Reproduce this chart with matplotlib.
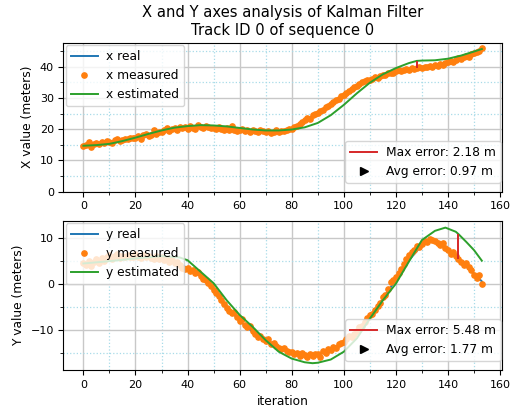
import numpy as np
import matplotlib.pyplot as plt
from matplotlib.lines import Line2D
from matplotlib.ticker import MultipleLocator

plt.rcParams['font.size'] = 8.8

# measured positions, one per iteration (0..153)
x_measured = [
    14.6, 14.8, 15.9, 14.4, 15.2, 15.6, 15.1, 15.8, 15.5, 16.2,
    16.0, 15.6, 16.4, 16.8, 16.1, 16.5, 17.0, 16.7, 17.2, 17.1,
    17.3, 17.8, 17.0, 18.2, 18.4, 17.9, 18.0, 19.9, 18.6, 19.2,
    19.0, 19.6, 20.3, 19.4, 20.1, 20.5, 19.9, 20.8, 20.4, 20.6,
    20.1, 20.9, 20.5, 20.2, 21.2, 20.6, 20.4, 21.0, 20.8, 20.3,
    20.5, 20.0, 20.7, 20.2, 19.9, 20.4, 19.7, 20.9, 19.8, 19.5,
    19.6, 20.1, 19.4, 19.8, 19.2, 19.9, 19.3, 19.0, 19.6, 19.4,
    19.1, 19.5, 18.8, 19.2, 19.6, 19.0, 19.3, 19.4, 19.8, 20.1,
    20.2, 20.6, 21.0, 21.6, 22.3, 22.8, 23.5, 23.2, 24.4, 24.8,
    25.2, 25.9, 26.3, 27.0, 27.4, 28.2, 28.6, 29.4, 29.8, 30.5,
    31.0, 31.6, 32.4, 32.8, 33.5, 33.9, 34.6, 35.0, 35.3, 35.9,
    35.8, 36.2, 36.7, 36.4, 37.1, 37.5, 37.3, 37.9, 38.1, 38.0,
    38.6, 38.9, 38.5, 39.1, 39.4, 39.0, 39.6, 39.3, 39.7, 39.9,
    39.5, 40.1, 39.8, 40.3, 40.0, 40.6, 40.4, 41.0, 40.7, 41.2,
    41.4, 41.9, 41.6, 42.3, 42.8, 42.5, 43.1, 43.6, 43.3, 44.0,
    44.4, 44.9, 45.1, 46.1,
]
y_measured = [
    4.6, 4.2, 5.1, 3.9, 4.8, 5.4, 4.7, 5.6, 5.0, 5.8,
    6.3, 5.5, 6.1, 6.6, 5.7, 6.2, 5.9, 6.4, 6.0, 5.8,
    6.5, 6.0, 5.6, 6.3, 5.9, 6.2, 5.7, 5.5, 6.1, 5.4,
    5.8, 5.2, 5.5, 4.9, 5.3, 4.6, 4.8, 4.1, 3.6, 3.2,
    3.5, 2.8, 3.0, 2.4, 2.6, 1.8, 1.2, 0.9, 0.2, -0.5,
    -1.3, -1.9, -2.6, -3.5, -4.4, -5.2, -5.8, -6.3, -6.0, -7.2,
    -8.0, -7.6, -8.9, -9.4, -9.0, -10.3, -10.8, -11.6, -11.2, -12.0,
    -12.4, -11.9, -13.0, -12.7, -13.5, -13.8, -14.1, -13.9, -14.6, -14.8,
    -14.7, -15.2, -15.0, -15.6, -14.9, -15.5, -15.9, -15.1, -15.7, -15.3,
    -15.2, -15.8, -14.6, -15.0, -14.2, -14.4, -13.7, -13.9, -13.1, -12.8,
    -12.5, -12.0, -11.3, -11.6, -10.8, -10.2, -9.4, -9.0, -8.3, -7.4,
    -6.7, -6.6, -5.7, -4.8, -4.2, -2.9, -2.4, -1.1, 0.4, 0.9,
    1.6, 2.5, 3.4, 4.3, 5.5, 6.3, 6.9, 7.4, 8.2, 8.0,
    8.8, 9.4, 9.1, 9.8, 9.5, 9.3, 9.0, 8.6, 8.9, 7.8,
    7.4, 6.6, 7.0, 6.2, 5.4, 4.9, 4.1, 4.5, 3.7, 3.0,
    2.0, 1.4, 1.9, 0.0,
]

# real trajectory (read at selected iterations)
x_real_it = [0, 10, 20, 30, 40, 50, 60, 70, 75, 80, 85, 90, 95, 100, 105,
             110, 115, 120, 125, 128, 130, 135, 140, 145, 150, 153]
x_real = [14.6, 16.0, 17.6, 19.3, 20.4, 20.5, 19.9, 19.3, 19.2, 20.0, 22.5,
          25.3, 28.2, 31.0, 33.9, 35.9, 37.4, 38.5, 39.3, 39.7, 39.9, 40.5,
          41.4, 42.6, 44.2, 45.6]
y_real_it = [0, 10, 20, 30, 35, 40, 45, 50, 55, 60, 65, 70, 75, 80, 85, 90,
             95, 100, 105, 110, 115, 120, 125, 130, 133, 135, 140, 144, 145,
             150, 153]
y_real = [4.5, 5.5, 6.0, 5.7, 5.0, 3.5, 1.8, -1.2, -4.8, -8.0, -10.4, -12.3,
          -13.8, -14.8, -15.4, -15.3, -14.4, -12.6, -10.3, -7.0, -3.2, 1.0,
          5.2, 8.5, 9.5, 9.5, 7.6, 5.4, 5.0, 2.3, 0.6]

# Kalman estimate
x_est_it = [0, 5, 10, 15, 20, 25, 30, 35, 40, 45, 50, 55, 60, 65, 70, 75, 80,
            85, 90, 95, 100, 105, 110, 115, 120, 125, 128, 130, 135, 140, 145,
            150, 153]
x_est = [14.7, 14.9, 15.3, 16.2, 17.3, 18.5, 19.6, 20.5, 21.0, 21.3, 21.2,
         20.9, 20.4, 19.9, 19.6, 19.6, 19.9, 20.6, 22.0, 24.5, 27.8, 31.5,
         34.9, 37.6, 39.6, 41.2, 41.9, 42.0, 42.1, 42.6, 43.6, 44.9, 45.7]
y_est_it = [0, 10, 20, 30, 37, 40, 45, 50, 55, 60, 65, 70, 75, 80, 85, 88,
            90, 95, 100, 105, 110, 115, 120, 125, 130, 135, 139, 143, 144,
            147, 150, 153]
y_est = [4.5, 5.0, 5.6, 6.1, 5.8, 5.2, 2.7, 0.2, -3.5, -6.7, -9.3, -12.2,
         -14.7, -16.2, -17.0, -17.2, -17.1, -16.4, -14.7, -11.8, -7.5, -3.5,
         0.1, 4.9, 9.6, 11.6, 12.3, 11.4, 10.9, 9.2, 7.4, 5.1]

# max error location and summary stats
x_max_it, x_max_lo, x_max_hi = 128, 39.7, 41.9
y_max_it, y_max_lo, y_max_hi = 144, 5.4, 10.9
x_max_err, x_avg_err = 2.18, 0.97
y_max_err, y_avg_err = 5.48, 1.77

it = np.arange(len(x_measured))

fig = plt.figure(figsize=(5.12, 4.12), dpi=100)
ax1 = fig.add_axes([0.124, 0.535, 0.856, 0.361])
ax2 = fig.add_axes([0.124, 0.102, 0.856, 0.362])

panels = [
    (ax1, 'x', x_real_it, x_real, x_measured, x_est_it, x_est,
     (x_max_it, x_max_lo, x_max_hi), x_max_err, x_avg_err),
    (ax2, 'y', y_real_it, y_real, y_measured, y_est_it, y_est,
     (y_max_it, y_max_lo, y_max_hi), y_max_err, y_avg_err),
]

for ax, name, r_it, r, m, e_it, e, mx, max_err, avg_err in panels:
    ax.plot(r_it, r, color='C0', lw=1.4, label=f'{name} real')
    ax.plot(it, m, 'o', color='C1', ms=3.8, label=f'{name} measured')
    ax.plot(e_it, e, color='C2', lw=1.4, label=f'{name} estimated')
    ax.vlines(mx[0], mx[1], mx[2], color='C3', lw=1.4)
    ax.xaxis.set_minor_locator(MultipleLocator(10))
    ax.yaxis.set_minor_locator(MultipleLocator(5))
    ax.grid(which='major', color='#c8c8c8', lw=1)
    ax.grid(which='minor', color='#a8dbe8', ls=':', lw=0.9)
    ax.tick_params(labelsize=8)
    leg1 = ax.legend(loc='upper left', numpoints=1, borderaxespad=0.2,
                     handlelength=2.2, handletextpad=0.7)
    ax.add_artist(leg1)
    handles = [Line2D([], [], color='C3', lw=1.4),
               Line2D([], [], color='black', marker='>', ls='none', ms=5.5)]
    ax.legend(handles, [f'Max error: {max_err:.2f} m',
                        f'Avg error: {avg_err:.2f} m'],
              loc='lower right', bbox_to_anchor=(1.0, 0.05),
              borderaxespad=0.1, handlelength=2.2, handletextpad=0.7)

ax1.set_ylim(0, None)
ax1.set_ylabel('X value (meters)')
ax2.set_ylabel('Y value (meters)')
ax2.set_xlabel('iteration')
ax1.set_title('X and Y axes analysis of Kalman Filter\nTrack ID 0 of sequence 0',
              fontsize=10.6)

fig.savefig('out.png', dpi=100)
